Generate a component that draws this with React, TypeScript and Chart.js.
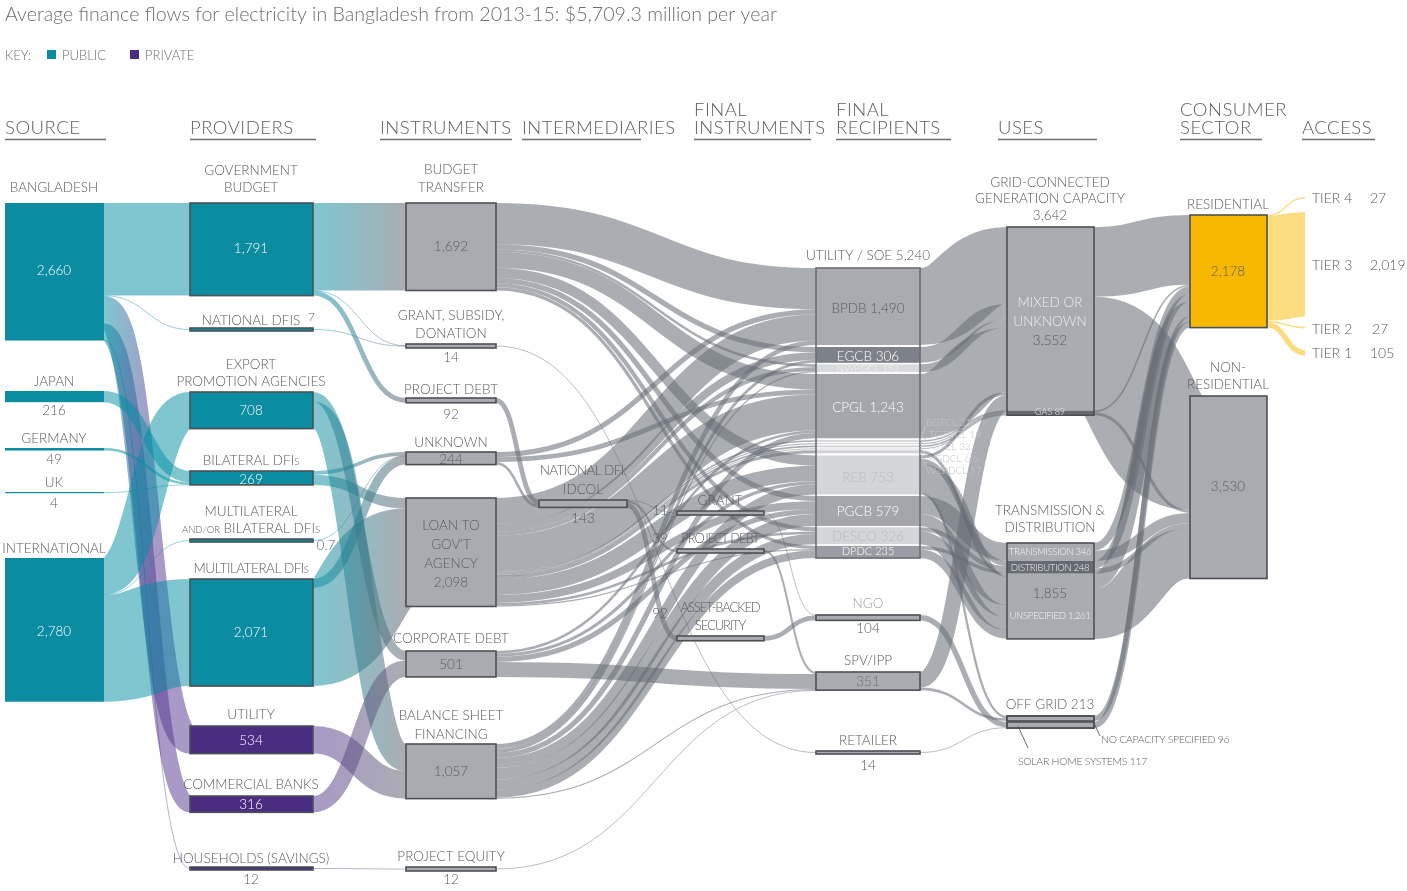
import { useEffect, useRef } from "react";
import { Chart, registerables } from "chart.js";

Chart.register(...registerables);

// ================= DATA (US$ million per year, 2013-15 average) =================
const TITLE =
  "Average finance flows for electricity in Bangladesh from 2013-15: $5,709.3 million per year";
const KEY_LABELS = ["PUBLIC", "PRIVATE"];
const COLUMN_HEADERS = [
  ["SOURCE"], ["PROVIDERS"], ["INSTRUMENTS"], ["INTERMEDIARIES"], ["FINAL", "INSTRUMENTS"],
  ["FINAL", "RECIPIENTS"], ["USES"], ["CONSUMER", "SECTOR"], ["ACCESS"],
];

const SOURCES = ["BANGLADESH", "JAPAN", "GERMANY", "UK", "INTERNATIONAL"];
const SOURCE_VALUES = [2660, 216, 49, 4, 2780];

const PROVIDERS = [
  "GOVERNMENT BUDGET", "NATIONAL DFIS", "EXPORT PROMOTION AGENCIES", "BILATERAL DFIs",
  "MULTILATERAL AND/OR BILATERAL DFIs", "MULTILATERAL DFIs", "UTILITY", "COMMERCIAL BANKS",
  "HOUSEHOLDS (SAVINGS)",
];
const PROVIDER_VALUES = [1791, 7, 708, 269, 0.7, 2071, 534, 316, 12];
const PROVIDER_TYPES = ["public", "public", "public", "public", "public", "public", "private", "private", "private"];

const INSTRUMENTS = [
  "BUDGET TRANSFER", "GRANT, SUBSIDY, DONATION", "PROJECT DEBT", "UNKNOWN",
  "LOAN TO GOV'T AGENCY", "CORPORATE DEBT", "BALANCE SHEET FINANCING", "PROJECT EQUITY",
];
const INSTRUMENT_VALUES = [1692, 14, 92, 244, 2098, 501, 1057, 12];

const INTERMEDIARIES = ["NATIONAL DFI: IDCOL"];
const INTERMEDIARY_VALUES = [143];

const FINAL_INSTRUMENTS = ["GRANT", "PROJECT DEBT", "ASSET-BACKED SECURITY"];
const FINAL_INSTRUMENT_VALUES = [11, 39, 92];

const RECIPIENTS = [
  "BPDB", "EGCB", "NWPGCL", "CPGL", "BGFCL", "TGTDCL", "GTCL", "KGDCL", "WZPDCL",
  "REB", "PGCB", "DESCO", "DPDC", "NGO", "SPV/IPP", "RETAILER",
];
const RECIPIENT_VALUES = [1490, 306, 152, 1243, 31, 19, 32, 6.6, 57, 753, 579, 326, 235, 104, 351, 14];
const UTILITY_SOE_TOTAL = 5240;

const USES = [
  "MIXED OR UNKNOWN", "GAS", "TRANSMISSION", "DISTRIBUTION", "UNSPECIFIED",
  "NO CAPACITY SPECIFIED", "SOLAR HOME SYSTEMS",
];
const USE_VALUES = [3552, 89, 346, 248, 1261, 96, 117];
const GRID_TOTAL = 3642;
const TD_TOTAL = 1855;
const OFFGRID_TOTAL = 213;

const SECTORS = ["RESIDENTIAL", "NON-RESIDENTIAL"];
const SECTOR_VALUES = [2178, 3530];

const TIERS = ["TIER 4", "TIER 3", "TIER 2", "TIER 1"];
const TIER_VALUES = [27, 2019, 27, 105];

type Flow = [string, string, number];

const SOURCE_TO_PROVIDER: Flow[] = [
  ["BANGLADESH", "GOVERNMENT BUDGET", 1791],
  ["BANGLADESH", "NATIONAL DFIS", 7],
  ["BANGLADESH", "UTILITY", 534],
  ["BANGLADESH", "COMMERCIAL BANKS", 316],
  ["BANGLADESH", "HOUSEHOLDS (SAVINGS)", 12],
  ["JAPAN", "BILATERAL DFIs", 216],
  ["GERMANY", "BILATERAL DFIs", 49],
  ["UK", "BILATERAL DFIs", 4],
  ["INTERNATIONAL", "EXPORT PROMOTION AGENCIES", 708],
  ["INTERNATIONAL", "MULTILATERAL AND/OR BILATERAL DFIs", 0.7],
  ["INTERNATIONAL", "MULTILATERAL DFIs", 2071],
];

const PROVIDER_TO_INSTRUMENT: Flow[] = [
  ["GOVERNMENT BUDGET", "BUDGET TRANSFER", 1692],
  ["GOVERNMENT BUDGET", "GRANT, SUBSIDY, DONATION", 7],
  ["GOVERNMENT BUDGET", "PROJECT DEBT", 92],
  ["NATIONAL DFIS", "GRANT, SUBSIDY, DONATION", 7],
  ["EXPORT PROMOTION AGENCIES", "CORPORATE DEBT", 185],
  ["EXPORT PROMOTION AGENCIES", "BALANCE SHEET FINANCING", 523],
  ["BILATERAL DFIs", "UNKNOWN", 71],
  ["BILATERAL DFIs", "LOAN TO GOV'T AGENCY", 198],
  ["MULTILATERAL AND/OR BILATERAL DFIs", "UNKNOWN", 0.7],
  ["MULTILATERAL DFIs", "UNKNOWN", 172],
  ["MULTILATERAL DFIs", "LOAN TO GOV'T AGENCY", 1899],
  ["UTILITY", "BALANCE SHEET FINANCING", 534],
  ["COMMERCIAL BANKS", "CORPORATE DEBT", 316],
  ["HOUSEHOLDS (SAVINGS)", "PROJECT EQUITY", 12],
];

const INSTRUMENT_TO_INTERMEDIARY: Flow[] = [
  ["PROJECT DEBT", "NATIONAL DFI: IDCOL", 92],
  ["UNKNOWN", "NATIONAL DFI: IDCOL", 51],
];

const INSTRUMENT_TO_RECIPIENT: Flow[] = [
  ["BUDGET TRANSFER", "BPDB", 800],
  ["BUDGET TRANSFER", "EGCB", 100],
  ["BUDGET TRANSFER", "NWPGCL", 50],
  ["BUDGET TRANSFER", "CPGL", 300],
  ["BUDGET TRANSFER", "REB", 200],
  ["BUDGET TRANSFER", "PGCB", 100],
  ["BUDGET TRANSFER", "DESCO", 80],
  ["BUDGET TRANSFER", "DPDC", 62],
  ["GRANT, SUBSIDY, DONATION", "RETAILER", 14],
  ["UNKNOWN", "BPDB", 100],
  ["UNKNOWN", "CPGL", 93],
  ["LOAN TO GOV'T AGENCY", "BPDB", 500],
  ["LOAN TO GOV'T AGENCY", "EGCB", 150],
  ["LOAN TO GOV'T AGENCY", "NWPGCL", 80],
  ["LOAN TO GOV'T AGENCY", "CPGL", 700],
  ["LOAN TO GOV'T AGENCY", "BGFCL", 31],
  ["LOAN TO GOV'T AGENCY", "TGTDCL", 19],
  ["LOAN TO GOV'T AGENCY", "GTCL", 32],
  ["LOAN TO GOV'T AGENCY", "KGDCL", 6.6],
  ["LOAN TO GOV'T AGENCY", "WZPDCL", 57],
  ["LOAN TO GOV'T AGENCY", "REB", 300],
  ["LOAN TO GOV'T AGENCY", "PGCB", 150],
  ["LOAN TO GOV'T AGENCY", "DESCO", 50],
  ["LOAN TO GOV'T AGENCY", "DPDC", 22],
  ["CORPORATE DEBT", "CPGL", 50],
  ["CORPORATE DEBT", "REB", 61],
  ["CORPORATE DEBT", "PGCB", 100],
  ["CORPORATE DEBT", "SPV/IPP", 290],
  ["BALANCE SHEET FINANCING", "BPDB", 90],
  ["BALANCE SHEET FINANCING", "EGCB", 56],
  ["BALANCE SHEET FINANCING", "NWPGCL", 22],
  ["BALANCE SHEET FINANCING", "CPGL", 100],
  ["BALANCE SHEET FINANCING", "REB", 192],
  ["BALANCE SHEET FINANCING", "PGCB", 229],
  ["BALANCE SHEET FINANCING", "DESCO", 196],
  ["BALANCE SHEET FINANCING", "DPDC", 151],
  ["BALANCE SHEET FINANCING", "SPV/IPP", 21],
  ["PROJECT EQUITY", "SPV/IPP", 12],
];

const INTERMEDIARY_TO_FINAL: Flow[] = [
  ["NATIONAL DFI: IDCOL", "GRANT", 11],
  ["NATIONAL DFI: IDCOL", "PROJECT DEBT", 40],
  ["NATIONAL DFI: IDCOL", "ASSET-BACKED SECURITY", 92],
];

const FINAL_TO_RECIPIENT: Flow[] = [
  ["GRANT", "NGO", 11],
  ["PROJECT DEBT", "SPV/IPP", 39],
  ["ASSET-BACKED SECURITY", "NGO", 92],
];

const RECIPIENT_TO_USE: Flow[] = [
  ["BPDB", "MIXED OR UNKNOWN", 1490],
  ["EGCB", "MIXED OR UNKNOWN", 306],
  ["NWPGCL", "MIXED OR UNKNOWN", 152],
  ["CPGL", "MIXED OR UNKNOWN", 1243],
  ["BGFCL", "GAS", 31],
  ["TGTDCL", "GAS", 19],
  ["GTCL", "GAS", 32],
  ["KGDCL", "GAS", 6.6],
  ["WZPDCL", "UNSPECIFIED", 57],
  ["REB", "MIXED OR UNKNOWN", 61],
  ["REB", "DISTRIBUTION", 100],
  ["REB", "UNSPECIFIED", 548],
  ["REB", "NO CAPACITY SPECIFIED", 44],
  ["PGCB", "TRANSMISSION", 346],
  ["PGCB", "UNSPECIFIED", 233],
  ["DESCO", "DISTRIBUTION", 80],
  ["DESCO", "UNSPECIFIED", 246],
  ["DPDC", "DISTRIBUTION", 68],
  ["DPDC", "UNSPECIFIED", 167],
  ["NGO", "SOLAR HOME SYSTEMS", 104],
  ["SPV/IPP", "MIXED OR UNKNOWN", 300],
  ["SPV/IPP", "NO CAPACITY SPECIFIED", 51],
  ["RETAILER", "SOLAR HOME SYSTEMS", 13],
];

const USE_TO_SECTOR: Flow[] = [
  ["MIXED OR UNKNOWN", "RESIDENTIAL", 1350],
  ["MIXED OR UNKNOWN", "NON-RESIDENTIAL", 2202],
  ["GAS", "RESIDENTIAL", 30],
  ["GAS", "NON-RESIDENTIAL", 59],
  ["TRANSMISSION", "RESIDENTIAL", 146],
  ["TRANSMISSION", "NON-RESIDENTIAL", 200],
  ["DISTRIBUTION", "RESIDENTIAL", 148],
  ["DISTRIBUTION", "NON-RESIDENTIAL", 100],
  ["UNSPECIFIED", "RESIDENTIAL", 291],
  ["UNSPECIFIED", "NON-RESIDENTIAL", 970],
  ["NO CAPACITY SPECIFIED", "RESIDENTIAL", 96],
  ["SOLAR HOME SYSTEMS", "RESIDENTIAL", 117],
];

const SECTOR_TO_TIER: Flow[] = [
  ["RESIDENTIAL", "TIER 4", 27],
  ["RESIDENTIAL", "TIER 3", 2019],
  ["RESIDENTIAL", "TIER 2", 27],
  ["RESIDENTIAL", "TIER 1", 105],
];

// ================= LAYOUT (chart units: x 0..1407, y 0..891) =================
const UNIT = 0.0517; // chart y-units per US$ million
const COL_X = [5, 190, 406, 539, 677, 816, 1007, 1190, 1305];
const COL_W = [99, 123, 90, 88, 87, 104, 87, 77, 0];
const COL_MIN_H = [1.2, 3, 4, 6, 4, 3, 0, 0, 0];
const SOURCE_TOP = [203, 391, 448, 492, 558];
const PROVIDER_TOP = [203, 328, 392, 471, 539, 579, 726, 796, 867];
const INSTRUMENT_TOP = [203, 344, 398, 452, 498, 651, 744, 867];
const INTERMEDIARY_TOP = [500];
const FINAL_TOP = [511, 549, 636];
const RECIPIENT_TOP = [268, 347, 364.3, 374, 440.2, 443.2, 445.6, 448.6, 450.3, 455.5, 496, 527.3, 545.9, 615, 672, 751];
const USE_TOP = [227, 410.6, 543, 560.9, 573.7, 716, 722];
const SECTOR_TOP = [215, 396];
const TIER_TOP = [197, 212, 327, 350];
const HEADER_X = [5, 190, 380, 522, 694, 836, 998, 1180, 1302];
const HEADER_UNDERLINE = [101, 126, 132, 119, 117, 115, 99, 82, 73];

// ================= STYLE =================
const FONT = 'Lato, "Open Sans", "DejaVu Sans", sans-serif';
const WEIGHT = "300";
const TXT = "#5a5b5e";
const WHITE = "#ffffff";
const PUBLIC = "#0b8ca1";
const PRIVATE = "#4a2c82";
const GRAY = "#a9abb1";
const BORDER = "#4d5055";
const GOLD = "#f6b800";
const FLOW_PUBLIC = "rgba(0,142,163,0.5)";
const FLOW_PRIVATE = "rgba(84,52,142,0.5)";
const FLOW_GRAY = "rgba(104,108,118,0.56)";
const FLOW_GOLD = "rgba(247,187,0,0.5)";
const RECIPIENT_FILL = [
  "#a9abb1", "#7d8189", "#d9dadd", "#a4a6ac", "#d0d1d4", "#d0d1d4", "#d0d1d4", "#d0d1d4", "#d0d1d4",
  "#d4d5d8", "#a4a6ac", "#d4d5d8", "#9a9da4", GRAY, GRAY, GRAY,
];
const USE_FILL = ["#a9abb1", "#656a73", "#a9abb1", "#656a73", "#a9abb1", "#a9abb1", "#a9abb1"];

// ================= MODEL =================
interface NodeM {
  id: string; col: number; idx: number; name: string; value: number;
  top: number; h: number; x0: number; x1: number;
  fill: string | null; stroke: boolean; outs: LinkM[]; ins: LinkM[];
}
interface LinkM { s: NodeM; t: NodeM; v: number; w: number; sy: number; ty: number; stage: number }

const COLUMNS: [string[], number[], number[]][] = [
  [SOURCES, SOURCE_VALUES, SOURCE_TOP],
  [PROVIDERS, PROVIDER_VALUES, PROVIDER_TOP],
  [INSTRUMENTS, INSTRUMENT_VALUES, INSTRUMENT_TOP],
  [INTERMEDIARIES, INTERMEDIARY_VALUES, INTERMEDIARY_TOP],
  [FINAL_INSTRUMENTS, FINAL_INSTRUMENT_VALUES, FINAL_TOP],
  [RECIPIENTS, RECIPIENT_VALUES, RECIPIENT_TOP],
  [USES, USE_VALUES, USE_TOP],
  [SECTORS, SECTOR_VALUES, SECTOR_TOP],
  [TIERS, TIER_VALUES, TIER_TOP],
];

const STAGES: [Flow[], number, number][] = [
  [SOURCE_TO_PROVIDER, 0, 1],
  [PROVIDER_TO_INSTRUMENT, 1, 2],
  [INSTRUMENT_TO_INTERMEDIARY, 2, 3],
  [INSTRUMENT_TO_RECIPIENT, 2, 5],
  [INTERMEDIARY_TO_FINAL, 3, 4],
  [FINAL_TO_RECIPIENT, 4, 5],
  [RECIPIENT_TO_USE, 5, 6],
  [USE_TO_SECTOR, 6, 7],
  [SECTOR_TO_TIER, 7, 8],
];

const GROUPS: [number, string[]][] = [
  [5, RECIPIENTS.slice(0, 13)],
  [6, USES.slice(0, 2)],
  [6, USES.slice(2, 5)],
  [6, USES.slice(5, 7)],
];

function buildModel() {
  const nodes = new Map<string, NodeM>();
  const grouped = new Set<string>();
  GROUPS.forEach(([c, m]) => m.forEach((n) => grouped.add(c + "|" + n)));
  COLUMNS.forEach(([names, values, tops], col) => {
    names.forEach((name, idx) => {
      const id = col + "|" + name;
      const raw = values[idx] * UNIT;
      const h = grouped.has(id) ? raw : Math.max(raw, COL_MIN_H[col]);
      let fill: string | null = GRAY;
      let stroke = true;
      if (col === 0) { fill = PUBLIC; stroke = false; }
      if (col === 1) fill = PROVIDER_TYPES[idx] === "public" ? PUBLIC : PRIVATE;
      if (col === 5) { fill = RECIPIENT_FILL[idx]; stroke = !grouped.has(id); }
      if (col === 6) { fill = USE_FILL[idx]; stroke = idx >= 5; }
      if (col === 7) fill = idx === 0 ? GOLD : GRAY;
      if (col === 8) { fill = null; stroke = false; }
      nodes.set(id, {
        id, col, idx, name, value: values[idx], top: tops[idx], h,
        x0: COL_X[col], x1: COL_X[col] + COL_W[col], fill, stroke, outs: [], ins: [],
      });
    });
  });
  const links: LinkM[] = [];
  STAGES.forEach(([flows, a, b], stage) => {
    flows.forEach(([sn, tn, v]) => {
      const s = nodes.get(a + "|" + sn)!;
      const t = nodes.get(b + "|" + tn)!;
      const l: LinkM = { s, t, v, w: v * UNIT, sy: 0, ty: 0, stage };
      s.outs.push(l); t.ins.push(l); links.push(l);
    });
  });
  const mid = (n: NodeM) => n.top + n.h / 2;
  nodes.forEach((n) => {
    n.outs.sort((p, q) => mid(p.t) - mid(q.t));
    n.ins.sort((p, q) => mid(p.s) - mid(q.s));
    const so = n.outs.reduce((acc, l) => acc + l.w, 0);
    const si = n.ins.reduce((acc, l) => acc + l.w, 0);
    let y = n.top + Math.max(0, (n.h - so) / 2);
    n.outs.forEach((l) => { l.sy = y; y += l.w; });
    y = n.top + Math.max(0, (n.h - si) / 2);
    n.ins.forEach((l) => { l.ty = y; y += l.w; });
  });
  return { nodes, links };
}

const MODEL = buildModel();
const fmt = (v: number) => v.toLocaleString("en-US");

// ================= TEXT =================
type Part = [string, number];
interface Lbl { t: string | Part[]; x: number; y: number; s?: number; c?: string; a?: "left" | "center" | "right"; ls?: number }
const LIGHT = "#c6c7cb";
const SC = 9.5; // small-caps size
const S = 13.5; // base label size

const LABELS: Lbl[] = [
  // sources
  { t: SOURCES[0], x: 54, y: 187 },
  { t: fmt(SOURCE_VALUES[0]), x: 54, y: 270, c: WHITE },
  { t: SOURCES[1], x: 54, y: 381 },
  { t: fmt(SOURCE_VALUES[1]), x: 54, y: 410 },
  { t: SOURCES[2], x: 54, y: 438 },
  { t: fmt(SOURCE_VALUES[2]), x: 54, y: 459 },
  { t: SOURCES[3], x: 54, y: 482 },
  { t: fmt(SOURCE_VALUES[3]), x: 54, y: 503 },
  { t: SOURCES[4], x: 54, y: 548 },
  { t: fmt(SOURCE_VALUES[4]), x: 54, y: 631, c: WHITE },
  // providers
  { t: "GOVERNMENT", x: 251, y: 170 },
  { t: "BUDGET", x: 251, y: 187 },
  { t: fmt(PROVIDER_VALUES[0]), x: 251, y: 248, c: WHITE },
  { t: PROVIDERS[1], x: 251, y: 320 },
  { t: fmt(PROVIDER_VALUES[1]), x: 308, y: 317, s: 12, a: "left" },
  { t: "EXPORT", x: 251, y: 364 },
  { t: "PROMOTION AGENCIES", x: 251, y: 381 },
  { t: fmt(PROVIDER_VALUES[2]), x: 251, y: 410, c: WHITE },
  { t: [["BILATERAL DFI", S], ["S", SC]], x: 251, y: 460 },
  { t: fmt(PROVIDER_VALUES[3]), x: 251, y: 479, c: WHITE },
  { t: "MULTILATERAL", x: 251, y: 511 },
  { t: [["AND/OR", SC], [" BILATERAL DFI", S], ["S", SC]], x: 251, y: 528 },
  { t: fmt(PROVIDER_VALUES[4]), x: 326, y: 545 },
  { t: [["MULTILATERAL DFI", S], ["S", SC]], x: 251, y: 568, ls: -0.5 },
  { t: fmt(PROVIDER_VALUES[5]), x: 251, y: 632, c: WHITE },
  { t: PROVIDERS[6], x: 251, y: 714 },
  { t: fmt(PROVIDER_VALUES[6]), x: 251, y: 740, c: WHITE },
  { t: PROVIDERS[7], x: 251, y: 784 },
  { t: fmt(PROVIDER_VALUES[7]), x: 251, y: 804, c: WHITE },
  { t: PROVIDERS[8], x: 251, y: 858 },
  { t: fmt(PROVIDER_VALUES[8]), x: 251, y: 879 },
  // instruments
  { t: "BUDGET", x: 451, y: 169 },
  { t: "TRANSFER", x: 451, y: 187 },
  { t: fmt(INSTRUMENT_VALUES[0]), x: 451, y: 246 },
  { t: "GRANT, SUBSIDY,", x: 451, y: 315 },
  { t: "DONATION", x: 451, y: 333 },
  { t: fmt(INSTRUMENT_VALUES[1]), x: 451, y: 357 },
  { t: INSTRUMENTS[2], x: 451, y: 389 },
  { t: fmt(INSTRUMENT_VALUES[2]), x: 451, y: 414 },
  { t: INSTRUMENTS[3], x: 451, y: 442 },
  { t: fmt(INSTRUMENT_VALUES[3]), x: 451, y: 459 },
  { t: "LOAN TO", x: 451, y: 525 },
  { t: "GOV'T", x: 451, y: 544 },
  { t: "AGENCY", x: 451, y: 563 },
  { t: fmt(INSTRUMENT_VALUES[4]), x: 451, y: 582 },
  { t: INSTRUMENTS[5], x: 451, y: 638 },
  { t: fmt(INSTRUMENT_VALUES[5]), x: 451, y: 664 },
  { t: "BALANCE SHEET", x: 451, y: 715 },
  { t: "FINANCING", x: 451, y: 734 },
  { t: fmt(INSTRUMENT_VALUES[6]), x: 451, y: 771 },
  { t: INSTRUMENTS[7], x: 451, y: 856 },
  { t: fmt(INSTRUMENT_VALUES[7]), x: 451, y: 879 },
  // intermediaries
  { t: "NATIONAL DFI:", x: 583, y: 470, ls: -0.6 },
  { t: "IDCOL", x: 583, y: 489 },
  { t: fmt(INTERMEDIARY_VALUES[0]), x: 583, y: 518 },
  // final instruments
  { t: FINAL_INSTRUMENTS[0], x: 720, y: 500 },
  { t: fmt(FINAL_INSTRUMENT_VALUES[0]), x: 660, y: 510 },
  { t: FINAL_INSTRUMENTS[1], x: 720, y: 538, s: 13, ls: -1.1 },
  { t: fmt(FINAL_INSTRUMENT_VALUES[1]), x: 660, y: 538 },
  { t: "ASSET-BACKED", x: 720, y: 607, s: 13, ls: -1.1 },
  { t: "SECURITY", x: 720, y: 625, s: 13, ls: -1.1 },
  { t: fmt(FINAL_INSTRUMENT_VALUES[2]), x: 660, y: 613 },
  // final recipients
  { t: "UTILITY / SOE " + fmt(UTILITY_SOE_TOTAL), x: 868, y: 255 },
  { t: "BPDB " + fmt(RECIPIENT_VALUES[0]), x: 868, y: 308 },
  { t: "EGCB " + fmt(RECIPIENT_VALUES[1]), x: 868, y: 356, c: WHITE },
  { t: "NWPGCL " + fmt(RECIPIENT_VALUES[2]), x: 868, y: 368.5, s: 10, c: "#f2f2f3" },
  { t: "CPGL " + fmt(RECIPIENT_VALUES[3]), x: 868, y: 407, c: WHITE },
  { t: "BGFCL " + fmt(RECIPIENT_VALUES[4]), x: 926, y: 422, s: 10, c: LIGHT, a: "left" },
  { t: "TGTDCL " + fmt(RECIPIENT_VALUES[5]), x: 929, y: 434, s: 10, c: LIGHT, a: "left" },
  { t: "GTCL " + fmt(RECIPIENT_VALUES[6]), x: 932, y: 446, s: 10, c: LIGHT, a: "left" },
  { t: "KGDCL " + fmt(RECIPIENT_VALUES[7]), x: 929, y: 458, s: 10, c: LIGHT, a: "left" },
  { t: "WZPDCL " + fmt(RECIPIENT_VALUES[8]), x: 926, y: 470, s: 10, c: LIGHT, a: "left" },
  { t: "REB " + fmt(RECIPIENT_VALUES[9]), x: 868, y: 477, c: "#b8b9bd" },
  { t: "PGCB " + fmt(RECIPIENT_VALUES[10]), x: 868, y: 511, c: WHITE },
  { t: "DESCO " + fmt(RECIPIENT_VALUES[11]), x: 868, y: 536, c: "#b8b9bd" },
  { t: "DPDC " + fmt(RECIPIENT_VALUES[12]), x: 868, y: 551.5, s: 11, c: WHITE },
  { t: RECIPIENTS[13], x: 868, y: 603, c: "#9c9da1" },
  { t: fmt(RECIPIENT_VALUES[13]), x: 868, y: 628 },
  { t: RECIPIENTS[14], x: 868, y: 660 },
  { t: fmt(RECIPIENT_VALUES[14]), x: 868, y: 681, c: "#6e6f73" },
  { t: RECIPIENTS[15], x: 868, y: 740 },
  { t: fmt(RECIPIENT_VALUES[15]), x: 868, y: 765 },
  // uses
  { t: "GRID-CONNECTED", x: 1050, y: 182 },
  { t: "GENERATION CAPACITY", x: 1050, y: 198 },
  { t: fmt(GRID_TOTAL), x: 1050, y: 215 },
  { t: "MIXED OR", x: 1050, y: 302, c: "#eeeeef" },
  { t: "UNKNOWN", x: 1050, y: 321, c: "#eeeeef" },
  { t: fmt(USE_VALUES[0]), x: 1050, y: 340 },
  { t: "GAS " + fmt(USE_VALUES[1]), x: 1050, y: 411.5, s: 9, c: "#e4e4e6" },
  { t: "TRANSMISSION &", x: 1050, y: 510 },
  { t: "DISTRIBUTION", x: 1050, y: 527 },
  { t: "TRANSMISSION " + fmt(USE_VALUES[2]), x: 1050, y: 552, s: 9.5, c: "#f4f4f4", ls: -0.3 },
  { t: "DISTRIBUTION " + fmt(USE_VALUES[3]), x: 1050, y: 567.5, s: 9.5, c: "#f4f4f4", ls: -0.3 },
  { t: fmt(TD_TOTAL), x: 1050, y: 593 },
  { t: "UNSPECIFIED " + fmt(USE_VALUES[4]), x: 1050, y: 616, s: 9.5, c: "#f4f4f4", ls: -0.3 },
  { t: "OFF GRID " + fmt(OFFGRID_TOTAL), x: 1050, y: 704 },
  { t: USES[5] + " " + fmt(USE_VALUES[5]), x: 1101, y: 739, s: 10.5, a: "left", ls: -0.3 },
  { t: USES[6] + " " + fmt(USE_VALUES[6]), x: 1018, y: 761, s: 10.5, a: "left", ls: -0.3 },
  // consumer sector
  { t: SECTORS[0], x: 1228, y: 204 },
  { t: fmt(SECTOR_VALUES[0]), x: 1228, y: 271 },
  { t: "NON-", x: 1228, y: 367 },
  { t: "RESIDENTIAL", x: 1228, y: 384 },
  { t: fmt(SECTOR_VALUES[1]), x: 1228, y: 486 },
  // access
  { t: TIERS[0], x: 1312, y: 198, a: "left", s: 14 },
  { t: fmt(TIER_VALUES[0]), x: 1370, y: 198, a: "left", s: 14 },
  { t: TIERS[1], x: 1312, y: 265, a: "left", s: 14 },
  { t: fmt(TIER_VALUES[1]), x: 1370, y: 265, a: "left", s: 14 },
  { t: TIERS[2], x: 1312, y: 329, a: "left", s: 14 },
  { t: fmt(TIER_VALUES[2]), x: 1372, y: 329, a: "left", s: 14 },
  { t: TIERS[3], x: 1312, y: 353, a: "left", s: 14 },
  { t: fmt(TIER_VALUES[3]), x: 1370, y: 353, a: "left", s: 14 },
];

const LEADERS: [number, number, number, number, string][] = [
  [920, 441, 926, 426, LIGHT],
  [920, 443.7, 928, 437, LIGHT],
  [920, 446.5, 931, 446, LIGHT],
  [920, 448.8, 928, 455, LIGHT],
  [920, 451.8, 926, 467, LIGHT],
  [1094, 723, 1100, 736, "#55575b"],
  [1018, 726, 1028, 748, "#55575b"],
];

// ================= DRAWING PLUGIN =================
const sankeyPlugin = {
  id: "sankeyDraw",
  afterDraw(chart: any) {
    const ctx: CanvasRenderingContext2D = chart.ctx;
    const xs = chart.scales.x;
    const ys = chart.scales.y;
    const X = (v: number) => xs.getPixelForValue(v);
    const Y = (v: number) => ys.getPixelForValue(v);
    const H = (v: number) => Y(v) - Y(0);
    ctx.save();
    ctx.fillStyle = "#ffffff";
    ctx.fillRect(0, 0, chart.width, chart.height);

    // ---- links ----
    for (const l of MODEL.links) {
      const x0 = X(l.s.x1);
      const x1 = X(l.t.x0);
      const w = Math.max(H(l.w), 0.8);
      const y0 = Y(l.sy + l.w / 2);
      const y1 = Y(l.ty + l.w / 2);
      const xm = (x0 + x1) / 2;
      let style: string | CanvasGradient = FLOW_GRAY;
      if (l.stage === 0) {
        if (PROVIDER_TYPES[l.t.idx] === "public") style = FLOW_PUBLIC;
        else {
          const g = ctx.createLinearGradient(x0, 0, x1, 0);
          g.addColorStop(0, FLOW_PUBLIC);
          g.addColorStop(0.6, FLOW_PRIVATE);
          g.addColorStop(1, FLOW_PRIVATE);
          style = g;
        }
      } else if (l.stage === 1) {
        const g = ctx.createLinearGradient(x0, 0, x1, 0);
        g.addColorStop(0, PROVIDER_TYPES[l.s.idx] === "public" ? FLOW_PUBLIC : FLOW_PRIVATE);
        g.addColorStop(1, FLOW_GRAY);
        style = g;
      } else if (l.stage === 8) style = FLOW_GOLD;
      ctx.beginPath();
      ctx.moveTo(x0, y0);
      ctx.bezierCurveTo(xm, y0, xm, y1, x1, y1);
      ctx.lineWidth = w;
      ctx.lineCap = "butt";
      ctx.strokeStyle = style;
      ctx.stroke();
    }

    // ---- group backgrounds ----
    const groupBox = (col: number, members: string[]) => {
      const ns = members.map((m) => MODEL.nodes.get(col + "|" + m)!);
      const top = Math.min(...ns.map((n) => n.top));
      const bot = Math.max(...ns.map((n) => n.top + n.h));
      return { x0: ns[0].x0, x1: ns[0].x1, top, bot };
    };
    GROUPS.forEach(([col, members]) => {
      const b = groupBox(col, members);
      ctx.fillStyle = "#ffffff";
      ctx.fillRect(X(b.x0), Y(b.top), X(b.x1) - X(b.x0), Y(b.bot) - Y(b.top));
    });

    // ---- nodes ----
    MODEL.nodes.forEach((n) => {
      if (!n.fill) return;
      const x = X(n.x0);
      const y = Y(n.top);
      const w = X(n.x1) - X(n.x0);
      const h = Math.max(H(n.h), 0.8);
      ctx.fillStyle = n.fill;
      ctx.fillRect(x, y, w, h);
      if (n.stroke) {
        ctx.lineWidth = 1.6;
        ctx.strokeStyle = BORDER;
        ctx.strokeRect(x, y, w, h);
      }
    });

    // ---- group outlines ----
    GROUPS.forEach(([col, members]) => {
      const b = groupBox(col, members);
      ctx.lineWidth = 1.6;
      ctx.strokeStyle = col === 5 ? "#6a6d72" : BORDER;
      ctx.strokeRect(X(b.x0), Y(b.top), X(b.x1) - X(b.x0), Y(b.bot) - Y(b.top));
    });

    // ---- leader lines ----
    LEADERS.forEach(([a, b, c, d, col]) => {
      ctx.beginPath();
      ctx.moveTo(X(a), Y(b));
      ctx.lineTo(X(c), Y(d));
      ctx.lineWidth = 0.9;
      ctx.strokeStyle = col;
      ctx.stroke();
    });

    // ---- text helper ----
    const anyCtx = ctx as any;
    const drawLabel = (it: Lbl) => {
      const size = it.s ?? S;
      const parts: Part[] = typeof it.t === "string" ? [[it.t, size]] : it.t;
      anyCtx.letterSpacing = (it.ls ?? 0) + "px";
      const ws = parts.map(([str, sz]) => {
        ctx.font = `${WEIGHT} ${sz}px ${FONT}`;
        return ctx.measureText(str).width;
      });
      const total = ws.reduce((p, q) => p + q, 0);
      let x = X(it.x);
      const a = it.a ?? "center";
      if (a === "center") x -= total / 2;
      else if (a === "right") x -= total;
      const base = Y(it.y) + size * 0.36;
      ctx.textAlign = "left";
      ctx.textBaseline = "alphabetic";
      ctx.fillStyle = it.c ?? TXT;
      parts.forEach(([str, sz], i) => {
        ctx.font = `${WEIGHT} ${sz}px ${FONT}`;
        ctx.fillText(str, x, base);
        x += ws[i];
      });
      anyCtx.letterSpacing = "0px";
    };

    // title & key
    drawLabel({ t: TITLE, x: 5, y: 14, s: 19.6, c: "#6d6e71", a: "left" });
    drawLabel({ t: "KEY:", x: 5, y: 55, s: 13, c: "#6d6e71", a: "left" });
    ctx.fillStyle = PUBLIC;
    ctx.fillRect(X(47), Y(50), X(56) - X(47), Y(59) - Y(50));
    drawLabel({ t: KEY_LABELS[0], x: 62, y: 55, s: 13, c: "#6d6e71", a: "left" });
    ctx.fillStyle = PRIVATE;
    ctx.fillRect(X(130), Y(50), X(139) - X(130), Y(59) - Y(50));
    drawLabel({ t: KEY_LABELS[1], x: 145, y: 55, s: 13, c: "#6d6e71", a: "left" });

    // column headers
    COLUMN_HEADERS.forEach((lines, i) => {
      lines.forEach((ln, j) => {
        const yy = lines.length === 1 ? 127 : j === 0 ? 109 : 127;
        drawLabel({ t: ln, x: HEADER_X[i], y: yy, s: 18.5, c: "#5d5e62", a: "left", ls: 0.5 });
      });
      ctx.beginPath();
      ctx.moveTo(X(HEADER_X[i]), Y(139.5));
      ctx.lineTo(X(HEADER_X[i] + HEADER_UNDERLINE[i]), Y(139.5));
      ctx.lineWidth = 1.6;
      ctx.strokeStyle = "#6d6e71";
      ctx.stroke();
    });

    LABELS.forEach(drawLabel);
    ctx.restore();
  },
};

export default function App() {
  const ref = useRef<HTMLCanvasElement>(null);
  useEffect(() => {
    document.body.style.margin = "0";
    const chart = new Chart(ref.current as HTMLCanvasElement, {
      type: "scatter",
      data: { datasets: [{ data: [] }] },
      options: {
        animation: false,
        responsive: false,
        devicePixelRatio: 1,
        events: [],
        layout: { padding: 0 },
        scales: {
          x: { type: "linear", min: 0, max: 1407, display: false },
          y: { type: "linear", min: 0, max: 891, reverse: true, display: false },
        },
        plugins: { legend: { display: false }, tooltip: { enabled: false }, title: { display: false } },
      },
      plugins: [sankeyPlugin],
    } as any);
    return () => chart.destroy();
  }, []);
  return <canvas ref={ref} width={1407} height={891} style={{ display: "block" }} />;
}
